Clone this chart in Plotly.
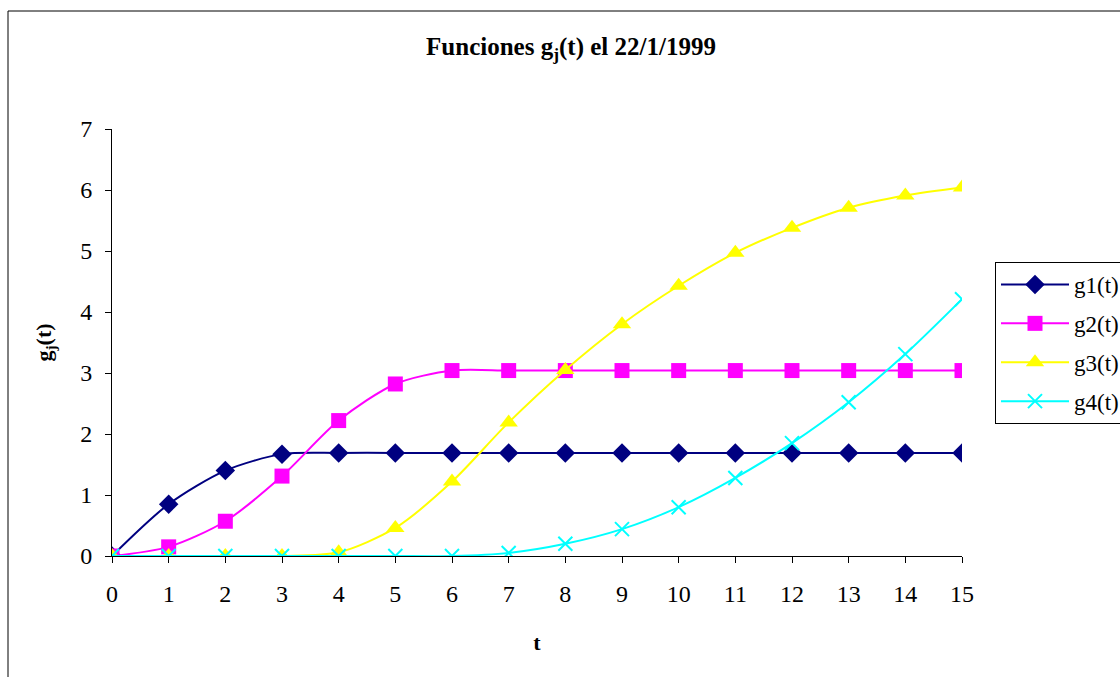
import plotly.graph_objects as go

# Time steps and the four g_j(t) series
t = list(range(16))
g1 = [0, 0.85, 1.40, 1.67, 1.69, 1.69, 1.69, 1.69, 1.69, 1.69, 1.69, 1.69, 1.69, 1.69, 1.69, 1.69]
g2 = [0, 0.15, 0.57, 1.31, 2.22, 2.82, 3.04, 3.04, 3.04, 3.04, 3.04, 3.04, 3.04, 3.04, 3.04, 3.04]
g3 = [0, 0, 0, 0, 0.06, 0.46, 1.22, 2.19, 3.05, 3.80, 4.43, 4.97, 5.38, 5.71, 5.91, 6.04]
g4 = [0, 0, 0, 0, 0, 0, 0, 0.05, 0.20, 0.44, 0.80, 1.28, 1.85, 2.52, 3.31, 4.21]

series = [
    ("g1(t)", g1, "#000080", "diamond", 15),
    ("g2(t)", g2, "#FF00FF", "square", 15),
    ("g3(t)", g3, "#FFFF00", "triangle-up", 16),
    ("g4(t)", g4, "#00FFFF", "x-thin-open", 14),
]

FONT = "Liberation Serif, Times New Roman, serif"

fig = go.Figure()
for name, ys, color, symbol, size in series:
    marker = dict(symbol=symbol, size=size, color=color)
    if symbol == "x-thin-open":
        marker["line"] = dict(color=color, width=2)
    fig.add_trace(go.Scatter(
        x=t, y=ys, name=name, mode="lines+markers",
        line=dict(color=color, width=2, shape="spline", smoothing=0.8),
        marker=marker, legendgroup=name,
    ))

fig.update_layout(
    width=1120, height=677,
    margin=dict(l=112, r=158, t=129, b=121, autoexpand=False),
    paper_bgcolor="white", plot_bgcolor="white",
    font=dict(family=FONT, size=24, color="black"),
    title=dict(
        text="<b>Funciones g<sub>j</sub>(t) el 22/1/1999</b>",
        x=571 / 1120, xref="container", xanchor="center",
        y=1 - 46 / 677, yref="container", yanchor="middle",
        font=dict(family=FONT, size=25, color="black"),
    ),
    xaxis=dict(
        range=[0, 15], tickmode="linear", tick0=0, dtick=1,
        showgrid=False, zeroline=False, showline=True, linecolor="black", linewidth=1,
        ticks="outside", ticklen=6, tickcolor="black", ticklabelstandoff=10,
        tickfont=dict(family=FONT, size=24),
        title=dict(text="<b>t</b>", font=dict(family=FONT, size=22), standoff=28),
    ),
    yaxis=dict(
        range=[0, 7], tickmode="linear", tick0=0, dtick=1,
        showgrid=False, zeroline=False, showline=True, linecolor="black", linewidth=1,
        ticks="outside", ticklen=6, tickcolor="black", ticklabelstandoff=8,
        tickfont=dict(family=FONT, size=24),
        title=dict(text="<b>g<sub>j</sub>(t)</b>", font=dict(family=FONT, size=22), standoff=22),
    ),
    legend=dict(
        x=(995 - 112) / 850, y=(556 - 262) / 427, xanchor="left", yanchor="top",
        bordercolor="black", borderwidth=1, bgcolor="white",
        font=dict(family=FONT, size=23), tracegroupgap=6, itemwidth=68,
    ),
    shapes=[dict(
        type="rect", xref="paper", yref="paper",
        x0=(8 - 112) / 850, x1=1.3, y0=-0.5, y1=(556 - 11) / 427,
        line=dict(color="black", width=1), fillcolor="rgba(0,0,0,0)", layer="below",
    )],
)

fig.write_html("out.html")
